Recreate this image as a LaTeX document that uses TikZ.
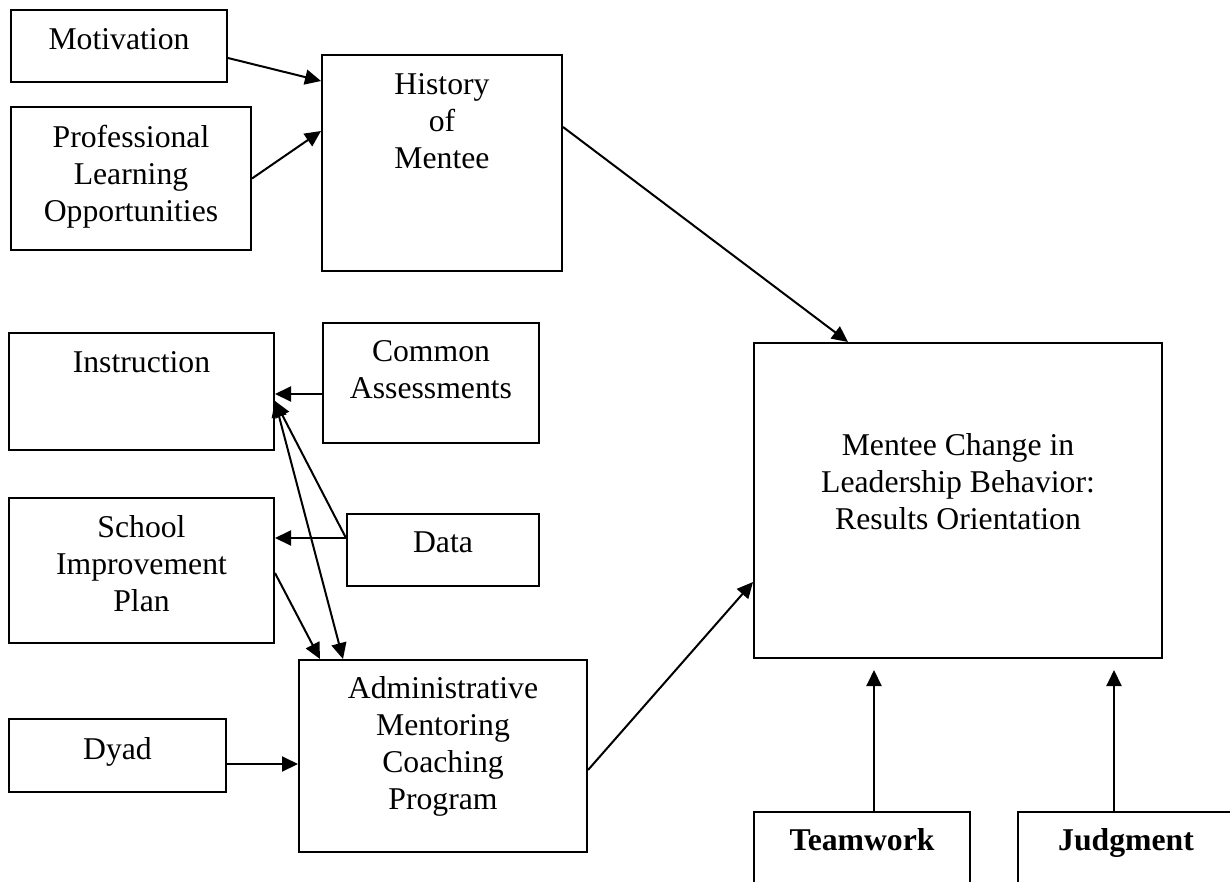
\documentclass[tikz,border=0pt]{standalone}
\usepackage{fontspec}
\setmainfont{Liberation Serif}
\usetikzlibrary{arrows.meta}
\begin{document}
\begin{tikzpicture}[x=1pt,y=-1pt,
  box/.style={draw, line width=2pt, inner sep=0pt, anchor=north west},
  lbl/.style={inner sep=0pt, anchor=north, align=center, font=\fontsize{31.7}{37}\selectfont},
  blbl/.style={lbl, font=\fontsize{31.7}{37}\selectfont\bfseries},
  arr/.style={line width=2pt, -{Triangle[length=16pt,width=15pt]}},
  biarr/.style={line width=2pt, {Triangle[length=16pt,width=15pt]}-{Triangle[length=16pt,width=15pt]}}]
\useasboundingbox (0,0) rectangle (1230,882);
\fill[white] (0,0) rectangle (1230,882);

% boxes
\node[box, minimum width=216pt, minimum height=72pt]  (motivation)  at (10,9)    {};
\node[box, minimum width=240pt, minimum height=143pt] (prof)        at (10,106)  {};
\node[box, minimum width=240pt, minimum height=216pt] (history)     at (321,54)  {};
\node[box, minimum width=265pt, minimum height=117pt] (instruction) at (8,332)   {};
\node[box, minimum width=216pt, minimum height=120pt] (common)      at (322,322) {};
\node[box, minimum width=192pt, minimum height=72pt]  (data)        at (346,513) {};
\node[box, minimum width=265pt, minimum height=145pt] (school)      at (8,497)   {};
\node[box, minimum width=217pt, minimum height=73pt]  (dyad)        at (8,718)   {};
\node[box, minimum width=288pt, minimum height=192pt] (admin)       at (298,659) {};
\node[box, minimum width=408pt, minimum height=315pt] (mentee)      at (753,342) {};
\node[box, minimum width=216pt, minimum height=100pt] (teamwork)    at (753,811) {};
\node[box, minimum width=216pt, minimum height=100pt] (judgment)    at (1017,811) {};

% labels
\node[lbl] (motivation-t)  at ([yshift=-19.5pt]motivation.north)  {Motivation};
\node[lbl] (prof-t)        at ([yshift=-18.5pt]prof.north)        {Professional\\Learning\\Opportunities};
\node[lbl] (history-t)     at ([yshift=-19.5pt]history.north)     {History\\of\\Mentee};
\node[lbl] (instruction-t) at ([yshift=-19.5pt]instruction.north) {Instruction};
\node[lbl] (common-t)      at ([yshift=-18.5pt]common.north)      {Common\\Assessments};
\node[lbl] (data-t)        at ([yshift=-18.5pt]data.north)        {Data};
\node[lbl] (school-t)      at ([yshift=-18.5pt]school.north)      {School\\Improvement\\Plan};
\node[lbl] (dyad-t)        at ([yshift=-19.5pt]dyad.north)        {Dyad};
\node[lbl] (admin-t)       at ([yshift=-17.5pt]admin.north)       {Administrative\\Mentoring\\Coaching\\Program};
\node[lbl] (mentee-t)      at ([yshift=-91.5pt]mentee.north)      {Mentee Change in\\Leadership Behavior:\\Results Orientation};
\node[blbl] (teamwork-t)   at ([yshift=-17.5pt]teamwork.north)    {Teamwork};
\node[blbl] (judgment-t)   at ([yshift=-17.5pt]judgment.north)    {Judgment};

% connectors
\draw[arr] ([yshift=-12pt]motivation.east) -- ([yshift=-27pt]history.north west);
\draw[arr] (prof.east) -- ([yshift=-77pt]history.north west);
\draw[arr] ([yshift=-73pt]history.north east) -- ([xshift=95pt]mentee.north west);

\coordinate (ca-out) at ([yshift=-11pt]common.west);
\draw[arr] (ca-out) -- (ca-out -| instruction.east);

\coordinate (data-out) at ([yshift=12pt]data.west);
\draw[arr] (data-out) -- (data-out -| school.east);
\coordinate (instr-in) at ([yshift=-9.5pt]instruction.east);
\draw[arr] (data-out) -- (instr-in);
\draw[biarr] (instr-in) -- ([xshift=45pt]admin.north west);
\draw[arr] ([yshift=-2.5pt]school.east) -- ([xshift=22pt]admin.north west);

\coordinate (dyad-out) at ([yshift=-8.5pt]dyad.east);
\draw[arr] (dyad-out) -- (dyad-out -| admin.west);
\draw[arr] ([yshift=-14pt]admin.east) -- ([yshift=-81.5pt]mentee.west);

\coordinate (tw-out) at ([xshift=12pt]teamwork.north);
\draw[arr, shorten >=11pt] (tw-out) -- (tw-out |- mentee.south);
\coordinate (jd-out) at ([xshift=-12pt]judgment.north);
\draw[arr, shorten >=11pt] (jd-out) -- (jd-out |- mentee.south);
\end{tikzpicture}
\end{document}
